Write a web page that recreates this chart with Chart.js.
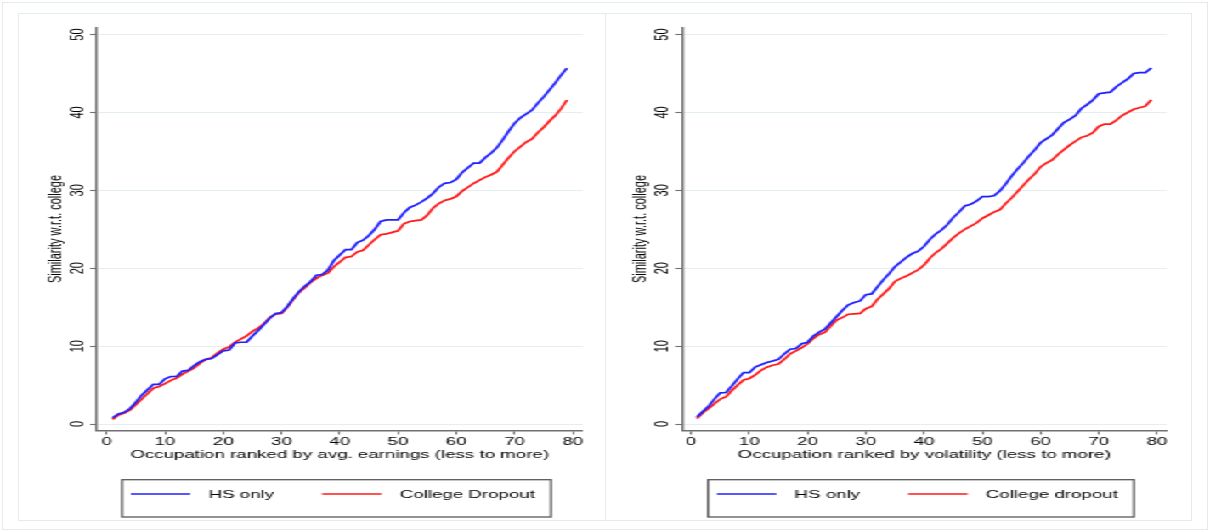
<!DOCTYPE html>
<html>
<head>
<meta charset="utf-8">
<script src="https://cdn.jsdelivr.net/npm/chart.js@4.4.1/dist/chart.umd.min.js"></script>
<style>
html,body{margin:0;padding:0;background:#fff;}
body{width:1210px;height:531px;overflow:hidden;position:relative;}
.frame{position:absolute;border:1px solid #e3ebee;box-sizing:border-box;}
#wrap{position:absolute;left:0;top:0;width:712px;height:531px;transform:scaleX(1.699438);transform-origin:0 0;}
#wrap canvas{position:absolute;top:0;}
#c1{left:0;}
#c2{left:356px;}
</style>
</head>
<body>
<div class="frame" style="left:2px;top:2px;width:1206px;height:528px;"></div>
<div class="frame" style="left:18px;top:13px;width:588px;height:508px;"></div>
<div class="frame" style="left:605px;top:13px;width:587px;height:508px;"></div>
<div id="wrap">
  <canvas id="c1" width="356" height="531"></canvas>
  <canvas id="c2" width="356" height="531"></canvas>
</div>
<script>
// ---- data ----
const ranks = [1,2,3,4,5,6,7,8,9,10,11,12,13,14,15,16,17,18,19,20,
  21,22,23,24,25,26,27,28,29,30,31,32,33,34,35,36,37,38,39,40,
  41,42,43,44,45,46,47,48,49,50,51,52,53,54,55,56,57,58,59,60,
  61,62,63,64,65,66,67,68,69,70,71,72,73,74,75,76,77,78,79];
const xTicks = [0,10,20,30,40,50,60,70,80];
const yTicks = [0,10,20,30,40,50];

const earnHS = [0.8,1.3,1.5,2.0,2.8,3.7,4.4,5.1,5.1,5.8,
  6.1,6.1,6.8,6.9,7.5,8.0,8.3,8.4,8.9,9.4,
  9.5,10.4,10.5,10.5,11.3,12.0,12.8,13.6,14.2,14.3,
  15.1,16.1,17.0,17.7,18.3,19.1,19.2,19.8,21.0,21.7,
  22.4,22.4,23.3,23.6,24.2,25.0,26.0,26.2,26.2,26.2,
  27.1,27.8,28.1,28.5,29.0,29.6,30.4,30.9,31.0,31.4,
  32.3,32.9,33.5,33.5,34.2,34.8,35.5,36.5,37.6,38.6,
  39.3,39.8,40.3,41.2,42.0,42.9,43.8,44.8,45.7];
const earnDrop = [0.6,1.15,1.4,1.8,2.5,3.2,3.9,4.6,4.8,5.2,
  5.6,5.9,6.4,6.8,7.2,7.8,8.3,8.5,9.1,9.6,
  9.9,10.5,10.9,11.3,11.9,12.3,12.9,13.7,14.1,14.2,
  15.0,16.0,16.9,17.5,18.2,18.7,19.1,19.4,20.2,20.8,
  21.4,21.5,22.1,22.3,23.0,23.7,24.3,24.4,24.6,24.8,
  25.7,26.0,26.1,26.2,26.8,27.7,28.3,28.7,28.9,29.2,
  29.9,30.4,30.9,31.3,31.7,32.0,32.4,33.3,34.2,35.0,
  35.6,36.2,36.6,37.4,38.1,38.9,39.6,40.5,41.6];
const volHS = [0.9,1.6,2.3,3.2,4.0,4.05,4.9,5.8,6.6,6.6,
  7.3,7.6,7.9,8.1,8.3,9.0,9.6,9.7,10.3,10.5,
  11.3,11.8,12.2,13.0,13.8,14.6,15.3,15.6,15.8,16.6,
  16.7,17.6,18.5,19.3,20.2,20.8,21.4,21.9,22.2,22.8,
  23.7,24.4,24.9,25.6,26.5,27.2,28.0,28.2,28.6,29.2,
  29.2,29.3,29.9,30.8,31.8,32.7,33.5,34.4,35.2,36.1,
  36.6,37.1,37.9,38.7,39.1,39.6,40.5,41.0,41.6,42.4,
  42.5,42.6,43.3,43.8,44.3,45.0,45.1,45.1,45.7];
const volDrop = [0.7,1.45,2.0,2.6,3.2,3.5,4.3,5.0,5.65,5.85,
  6.3,6.9,7.3,7.55,7.7,8.3,9.0,9.4,9.8,10.3,
  11.0,11.5,11.8,12.6,13.35,13.7,14.1,14.15,14.2,14.8,
  15.1,16.0,16.7,17.4,18.3,18.7,19.0,19.4,19.8,20.4,
  21.3,22.0,22.5,23.2,23.9,24.5,25.0,25.4,25.8,26.4,
  26.8,27.2,27.5,28.3,29.0,29.8,30.6,31.4,32.1,33.0,
  33.5,33.9,34.6,35.2,35.8,36.3,36.8,37.0,37.4,38.2,
  38.5,38.5,39.0,39.6,40.0,40.4,40.6,40.8,41.6];

const yTitle = 'Similarity w.r.t. college';
const xTitleEarn = 'Occupation ranked by avg. earnings (less to more)';
const xTitleVol = 'Occupation ranked by volatility (less to more)';
const legendEarn = ['HS only', 'College Dropout'];
const legendVol = ['HS only', 'College dropout'];

// ---- styles ----
const BLUE = '#1f1fff';
const RED = '#ff1a1a';
const AXIS = '#707070';
const GRID = '#e4edf1';
const TEXT = '#000000';
const FAMILY = '"Liberation Sans", Arial, Helvetica, sans-serif';
const FONT = {family: FAMILY, size: 11};

const boxLegend = {
  id: 'boxLegend',
  afterDraw(chart, args, o) {
    const ctx = chart.ctx, ca = chart.chartArea, ds = chart.data.datasets;
    ctx.save();
    ctx.font = '11px ' + FAMILY;
    const w0 = ctx.measureText(ds[0].label).width;
    const w1 = ctx.measureText(ds[1].label).width;
    const total = o.padL + o.lineLen + o.gap + w0 + o.sep + o.lineLen + o.gap + w1 + o.padR;
    const left = (ca.left + ca.right) / 2 + o.shift - total / 2;
    const top = ca.bottom + o.top, bottom = ca.bottom + o.bottom;
    ctx.strokeStyle = '#5a5a5a';
    ctx.lineWidth = 1.3;
    ctx.strokeRect(left, top, total, bottom - top);
    const ly = ca.bottom + o.lineY;
    let x = left + o.padL;
    [[ds[0], w0], [ds[1], w1]].forEach(([d, w]) => {
      ctx.strokeStyle = d.borderColor;
      ctx.lineWidth = 1.6;
      ctx.beginPath();
      ctx.moveTo(x, ly);
      ctx.lineTo(x + o.lineLen, ly);
      ctx.stroke();
      x += o.lineLen + o.gap;
      ctx.fillStyle = TEXT;
      ctx.textBaseline = 'middle';
      ctx.textAlign = 'left';
      ctx.fillText(d.label, x, ly + 0.5);
      x += w + o.sep;
    });
    ctx.restore();
  }
};

function makeChart(id, hs, drop, xTitle, labels, g) {
  return new Chart(document.getElementById(id), {
    type: 'line',
    data: {
      datasets: [
        {label: labels[0], data: ranks.map((r, i) => ({x: r, y: hs[i]})),
         borderColor: BLUE, backgroundColor: BLUE, borderWidth: 1.7, pointRadius: 0, tension: 0, fill: false},
        {label: labels[1], data: ranks.map((r, i) => ({x: r, y: drop[i]})),
         borderColor: RED, backgroundColor: RED, borderWidth: 1.7, pointRadius: 0, tension: 0, fill: false}
      ]
    },
    options: {
      responsive: false,
      animation: false,
      devicePixelRatio: 1,
      layout: {padding: {left: g.padL, right: g.padR, top: 27.5, bottom: 66.5}},
      plugins: {
        legend: {display: false},
        tooltip: {enabled: false},
        boxLegend: {padL: 5.2, lineLen: 35, gap: 10.7, sep: 28.3, padR: 9.5, shift: -1.9,
                    top: 49.2, bottom: 86.5, lineY: 63.5}
      },
      scales: {
        x: {
          type: 'linear', min: g.xmin, max: g.xmax,
          afterBuildTicks: s => { s.ticks = xTicks.map(v => ({value: v})); },
          afterFit: s => { s.height = 34; },
          grid: {drawOnChartArea: false, drawTicks: true, tickLength: 4, tickColor: AXIS, tickWidth: 1.1},
          border: {display: true, color: AXIS, width: 1.4},
          ticks: {font: FONT, color: TEXT, padding: 0.9, maxRotation: 0, autoSkip: false},
          title: {display: true, text: xTitle, font: FONT, color: TEXT, padding: {top: 0, bottom: 2.9}}
        },
        y: {
          type: 'linear', min: -0.83, max: 50.9,
          afterBuildTicks: s => { s.ticks = yTicks.map(v => ({value: v})); },
          afterFit: s => { s.width = 36.9; },
          grid: {color: GRID, lineWidth: 1, drawTicks: true, tickLength: 3.9, tickColor: AXIS, tickWidth: 1.1},
          border: {display: true, color: AXIS, width: 1.4},
          ticks: {font: FONT, color: TEXT, padding: 1.2, minRotation: 90, maxRotation: 90,
                  crossAlign: 'center', autoSkip: false},
          title: {display: true, text: yTitle, font: FONT, color: TEXT, padding: {top: 6.3, bottom: 0}}
        }
      }
    },
    plugins: [boxLegend]
  });
}

makeChart('c1', earnHS, earnDrop, xTitleEarn, legendEarn, {padL: 20, padR: 13.1, xmin: -1.73, xmax: 81.71});
makeChart('c2', volHS, volDrop, xTitleVol, legendVol, {padL: 8.3, padR: 25.5, xmin: -1.6, xmax: 81.66});
</script>
</body>
</html>
